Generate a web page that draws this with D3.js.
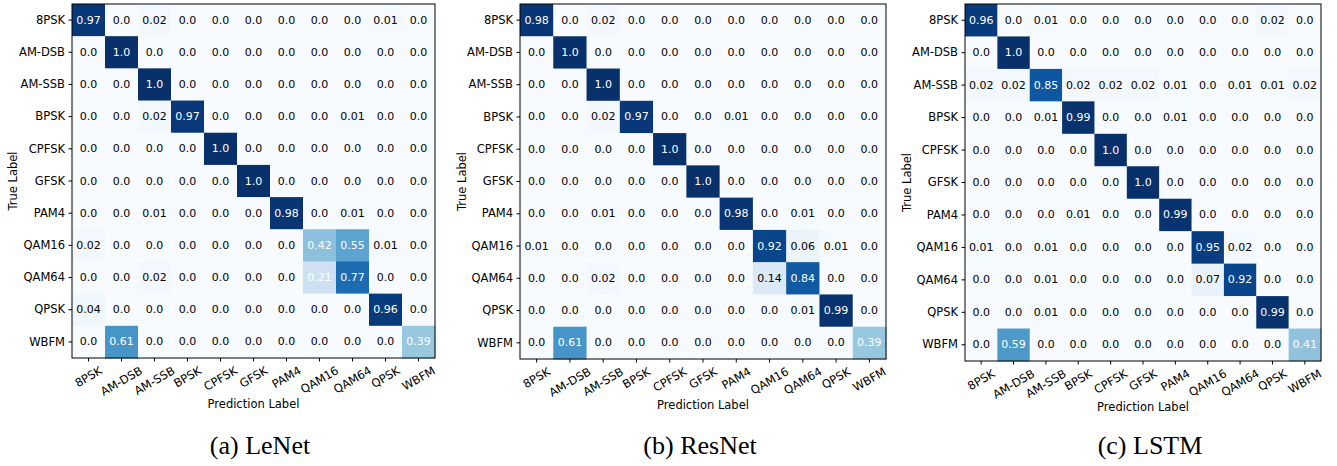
<!DOCTYPE html>
<html>
<head>
<meta charset="utf-8">
<script src="https://cdn.jsdelivr.net/npm/d3@7"></script>
<style>
  body { margin: 0; background: #fff; }
  text { font-family: "DejaVu Sans", sans-serif; }
</style>
</head>
<body>
<div id="chart"></div>
<script>
// class labels (rows = true, columns = predicted)
const labels = ["8PSK", "AM-DSB", "AM-SSB", "BPSK", "CPFSK", "GFSK", "PAM4", "QAM16", "QAM64", "QPSK", "WBFM"];

const lenet = [
    [0.97, 0.0, 0.02, 0.0, 0.0, 0.0, 0.0, 0.0, 0.0, 0.01, 0.0],
    [0.0, 1.0, 0.0, 0.0, 0.0, 0.0, 0.0, 0.0, 0.0, 0.0, 0.0],
    [0.0, 0.0, 1.0, 0.0, 0.0, 0.0, 0.0, 0.0, 0.0, 0.0, 0.0],
    [0.0, 0.0, 0.02, 0.97, 0.0, 0.0, 0.0, 0.0, 0.01, 0.0, 0.0],
    [0.0, 0.0, 0.0, 0.0, 1.0, 0.0, 0.0, 0.0, 0.0, 0.0, 0.0],
    [0.0, 0.0, 0.0, 0.0, 0.0, 1.0, 0.0, 0.0, 0.0, 0.0, 0.0],
    [0.0, 0.0, 0.01, 0.0, 0.0, 0.0, 0.98, 0.0, 0.01, 0.0, 0.0],
    [0.02, 0.0, 0.0, 0.0, 0.0, 0.0, 0.0, 0.42, 0.55, 0.01, 0.0],
    [0.0, 0.0, 0.02, 0.0, 0.0, 0.0, 0.0, 0.21, 0.77, 0.0, 0.0],
    [0.04, 0.0, 0.0, 0.0, 0.0, 0.0, 0.0, 0.0, 0.0, 0.96, 0.0],
    [0.0, 0.61, 0.0, 0.0, 0.0, 0.0, 0.0, 0.0, 0.0, 0.0, 0.39]
];

const resnet = [
    [0.98, 0.0, 0.02, 0.0, 0.0, 0.0, 0.0, 0.0, 0.0, 0.0, 0.0],
    [0.0, 1.0, 0.0, 0.0, 0.0, 0.0, 0.0, 0.0, 0.0, 0.0, 0.0],
    [0.0, 0.0, 1.0, 0.0, 0.0, 0.0, 0.0, 0.0, 0.0, 0.0, 0.0],
    [0.0, 0.0, 0.02, 0.97, 0.0, 0.0, 0.01, 0.0, 0.0, 0.0, 0.0],
    [0.0, 0.0, 0.0, 0.0, 1.0, 0.0, 0.0, 0.0, 0.0, 0.0, 0.0],
    [0.0, 0.0, 0.0, 0.0, 0.0, 1.0, 0.0, 0.0, 0.0, 0.0, 0.0],
    [0.0, 0.0, 0.01, 0.0, 0.0, 0.0, 0.98, 0.0, 0.01, 0.0, 0.0],
    [0.01, 0.0, 0.0, 0.0, 0.0, 0.0, 0.0, 0.92, 0.06, 0.01, 0.0],
    [0.0, 0.0, 0.02, 0.0, 0.0, 0.0, 0.0, 0.14, 0.84, 0.0, 0.0],
    [0.0, 0.0, 0.0, 0.0, 0.0, 0.0, 0.0, 0.0, 0.01, 0.99, 0.0],
    [0.0, 0.61, 0.0, 0.0, 0.0, 0.0, 0.0, 0.0, 0.0, 0.0, 0.39]
];

const lstm = [
    [0.96, 0.0, 0.01, 0.0, 0.0, 0.0, 0.0, 0.0, 0.0, 0.02, 0.0],
    [0.0, 1.0, 0.0, 0.0, 0.0, 0.0, 0.0, 0.0, 0.0, 0.0, 0.0],
    [0.02, 0.02, 0.85, 0.02, 0.02, 0.02, 0.01, 0.0, 0.01, 0.01, 0.02],
    [0.0, 0.0, 0.01, 0.99, 0.0, 0.0, 0.01, 0.0, 0.0, 0.0, 0.0],
    [0.0, 0.0, 0.0, 0.0, 1.0, 0.0, 0.0, 0.0, 0.0, 0.0, 0.0],
    [0.0, 0.0, 0.0, 0.0, 0.0, 1.0, 0.0, 0.0, 0.0, 0.0, 0.0],
    [0.0, 0.0, 0.0, 0.01, 0.0, 0.0, 0.99, 0.0, 0.0, 0.0, 0.0],
    [0.01, 0.0, 0.01, 0.0, 0.0, 0.0, 0.0, 0.95, 0.02, 0.0, 0.0],
    [0.0, 0.0, 0.01, 0.0, 0.0, 0.0, 0.0, 0.07, 0.92, 0.0, 0.0],
    [0.0, 0.0, 0.01, 0.0, 0.0, 0.0, 0.0, 0.0, 0.0, 0.99, 0.0],
    [0.0, 0.59, 0.0, 0.0, 0.0, 0.0, 0.0, 0.0, 0.0, 0.0, 0.41]
];

const captions = ["(a) LeNet", "(b) ResNet", "(c) LSTM"];

const svg = d3.select("#chart")
    .append("svg")
    .attr("width", 1337)
    .attr("height", 466);

svg.append("rect")
    .attr("width", 1337)
    .attr("height", 466)
    .attr("fill", "white");

// matplotlib "Blues", vmin 0 vmax 1
const color = d3.scaleLinear()
    .domain(d3.range(9).map(i => i / 8))
    .range(d3.schemeBlues[9]);

const fmt = v => (v % 1 === 0 ? v.toFixed(1) : String(v));

const fs = 11.5;   // tick / axis label size
const fsCell = 11; // numbers in the cells

// panel boxes and caption centres
const panels = [
    { data: lenet, x0: 72, x1: 435, y0: 4, y1: 358, ylab: 13, cap: 260 },
    { data: resnet, x0: 520, x1: 886, y0: 4, y1: 359, ylab: 462, cap: 700 },
    { data: lstm, x0: 965, x1: 1321, y0: 4, y1: 361, ylab: 907, cap: 1150 }
];

panels.forEach((p, k) => {
    const g = svg.append("g");

    const x = d3.scaleBand().domain(labels).range([p.x0, p.x1]);
    const y = d3.scaleBand().domain(labels).range([p.y0, p.y1]);

    const cells = [];
    p.data.forEach((row, i) => row.forEach((v, j) => {
        cells.push({ t: labels[i], p: labels[j], v: v });
    }));

    g.selectAll("rect.cell")
        .data(cells)
        .join("rect")
        .attr("class", "cell")
        .attr("x", d => x(d.p))
        .attr("y", d => y(d.t))
        .attr("width", x.bandwidth() + 0.5)
        .attr("height", y.bandwidth() + 0.5)
        .attr("fill", d => color(d.v));

    g.selectAll("text.val")
        .data(cells)
        .join("text")
        .attr("class", "val")
        .attr("x", d => x(d.p) + x.bandwidth() / 2)
        .attr("y", d => y(d.t) + y.bandwidth() / 2)
        .attr("text-anchor", "middle")
        .attr("dominant-baseline", "central")
        .attr("font-size", fsCell)
        .attr("fill", d => (d.v > 0.2 ? "white" : "black"))
        .text(d => fmt(d.v));

    // frame
    g.append("rect")
        .attr("x", p.x0)
        .attr("y", p.y0)
        .attr("width", p.x1 - p.x0)
        .attr("height", p.y1 - p.y0)
        .attr("fill", "none")
        .attr("stroke", "black")
        .attr("stroke-width", 1);

    // y axis
    const yAxis = g.append("g")
        .attr("transform", `translate(${p.x0},0)`)
        .call(d3.axisLeft(y).tickSize(3.5).tickSizeOuter(0).tickPadding(3.5));
    yAxis.select(".domain").remove();
    yAxis.selectAll("text").attr("font-size", fs).attr("font-family", "DejaVu Sans").attr("fill", "black");

    // x axis, labels rotated 30 deg, centred under tick
    const xAxis = g.append("g")
        .attr("transform", `translate(0,${p.y1})`)
        .call(d3.axisBottom(x).tickSize(3.5).tickSizeOuter(0));
    xAxis.select(".domain").remove();
    xAxis.selectAll("text")
        .attr("font-size", fs)
        .attr("font-family", "DejaVu Sans")
        .attr("fill", "black")
        .attr("dy", null)
        .attr("dominant-baseline", "central")
        .attr("text-anchor", "middle")
        .each(function () {
            const w = this.getComputedTextLength();
            const h = fs * 1.1;
            const bh = w * 0.5 + h * Math.cos(Math.PI / 6);
            d3.select(this)
                .attr("y", 0)
                .attr("transform", `translate(0,${6 + bh / 2}) rotate(-30)`);
        });

    g.append("text")
        .attr("x", (p.x0 + p.x1) / 2)
        .attr("y", p.y1 + 46)
        .attr("text-anchor", "middle")
        .attr("dominant-baseline", "central")
        .attr("font-size", fs)
        .text("Prediction Label");

    g.append("text")
        .attr("transform", `translate(${p.ylab},${(p.y0 + p.y1) / 2}) rotate(-90)`)
        .attr("text-anchor", "middle")
        .attr("dominant-baseline", "central")
        .attr("font-size", fs)
        .text("True Label");

    g.append("text")
        .attr("x", p.cap)
        .attr("y", 454)
        .attr("text-anchor", "middle")
        .style("font-family", "'Liberation Serif', serif")
        .attr("font-size", 26)
        .text(captions[k]);
});
</script>
</body>
</html>
